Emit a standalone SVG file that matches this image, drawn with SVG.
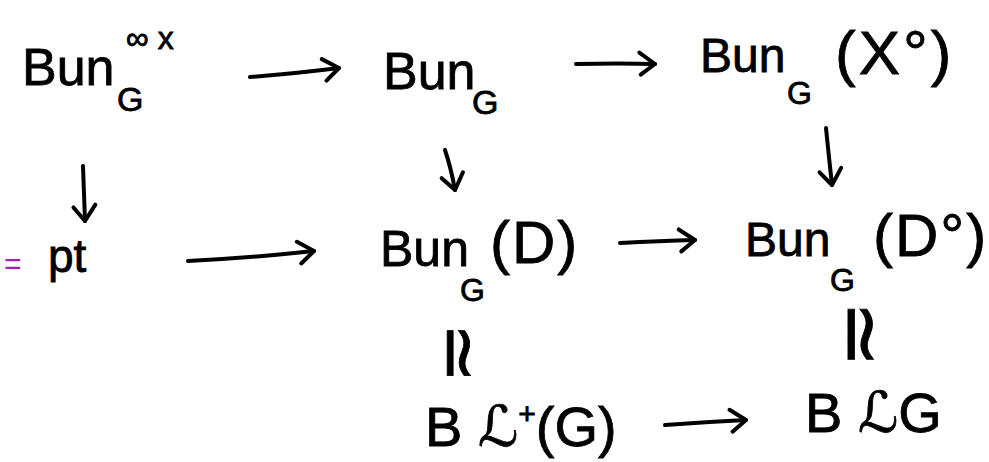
<svg xmlns="http://www.w3.org/2000/svg" width="989" height="462" viewBox="0 0 989 462">
<defs>
<style>
.t{font-family:"Liberation Sans","DejaVu Sans",sans-serif;fill:#000;stroke:#000;stroke-width:0.8}
.c{fill:none;stroke:#000;stroke-width:4;stroke-linecap:round;stroke-linejoin:round}
</style>
<marker id="ah" viewBox="-20 -14 24 28" markerWidth="24" markerHeight="28" refX="0" refY="0" orient="auto" markerUnits="userSpaceOnUse">
<path d="M-16,-11 L0,0 L-14,11" fill="none" stroke="#000" stroke-width="4" stroke-linecap="round" stroke-linejoin="round"/>
</marker>
</defs>
<rect width="989" height="462" fill="#fff"/>
<g id="n-bun-inf">
<text class="t" x="22" y="85" font-size="52">Bun</text>
<text class="t" x="117" y="111" font-size="34">G</text>
<text class="t" x="126" y="49" font-size="32">∞ x</text>
</g>
<g id="n-bun">
<text class="t" x="383" y="89" font-size="52">Bun</text>
<text class="t" x="472" y="114" font-size="34">G</text>
</g>
<g id="n-bun-x">
<text class="t" x="700" y="72" font-size="48">Bun</text>
<text class="t" x="787" y="104" font-size="32">G</text>
<text class="t" x="835" y="74" font-size="62" letter-spacing="3">(X°)</text>
</g>
<g id="n-pt">
<text x="4" y="274" font-family="Liberation Sans,sans-serif" font-size="30" fill="#a020c0">=</text>
<text class="t" x="48" y="272" font-size="46">pt</text>
</g>
<g id="n-bun-d">
<text class="t" x="380" y="266" font-size="50">Bun</text>
<text class="t" x="460" y="301" font-size="32">G</text>
<text class="t" x="490" y="263" font-size="60" letter-spacing="2">(D)</text>
</g>
<g id="n-bun-d0">
<text class="t" x="745" y="256" font-size="48">Bun</text>
<text class="t" x="830" y="291" font-size="32">G</text>
<text class="t" x="873" y="256" font-size="60" letter-spacing="2">(D°)</text>
</g>
<g id="iso-1">
<text class="t" font-size="72" text-anchor="middle" transform="translate(460,353) rotate(90)" dominant-baseline="central" stroke-width="1.5">≃</text>
</g>
<g id="iso-2">
<text class="t" font-size="80" text-anchor="middle" transform="translate(861,334) rotate(90)" dominant-baseline="central" stroke-width="1.5">≃</text>
</g>
<g id="n-bl-plus">
<text class="t" x="425" y="446" font-size="56">B ℒ<tspan font-size="30" dy="-22">+</tspan><tspan dy="22">(G)</tspan></text>
</g>
<g id="n-blg">
<text class="t" x="805" y="432" font-size="56">B ℒG</text>
</g>
<g id="connectors">
<path class="c" d="M250,77 Q300,73 339,68" marker-end="url(#ah)"/>
<path class="c" d="M576,64 Q620,63 655,64" marker-end="url(#ah)"/>
<path class="c" d="M83,166 Q84,195 85,221" marker-end="url(#ah)"/>
<path class="c" d="M445,150 Q451,168 455,190" marker-end="url(#ah)"/>
<path class="c" d="M826,128 Q829,158 832,185" marker-end="url(#ah)"/>
<path class="c" d="M188,261 Q250,258 314,251" marker-end="url(#ah)"/>
<path class="c" d="M620,243 Q660,241 695,240" marker-end="url(#ah)"/>
<path class="c" d="M665,425 Q705,422 746,420" marker-end="url(#ah)"/>
</g>
</svg>
